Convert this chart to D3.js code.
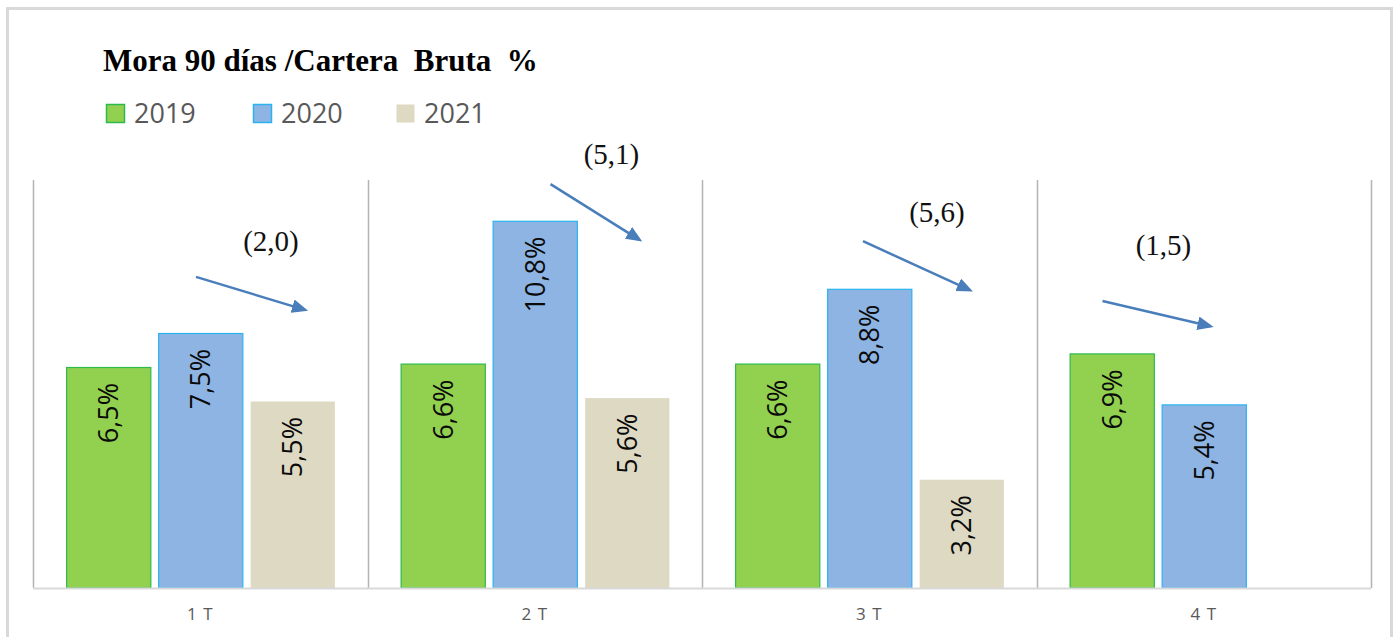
<!DOCTYPE html>
<html>
<head>
<meta charset="utf-8">
<script src="https://cdn.jsdelivr.net/npm/d3@7"></script>
<style>
  html, body { margin: 0; padding: 0; background: #fff; }
  svg { display: block; }
</style>
</head>
<body>
<div id="chart"></div>
<script>
// data
const quarters = ['1 T', '2 T', '3 T', '4 T'];
const years = ['2019', '2020', '2021'];
const values2019 = [6.5, 6.6, 6.6, 6.9];
const values2020 = [7.5, 10.8, 8.8, 5.4];
const values2021 = [5.5, 5.6, 3.2, null];
const changeLabels = ['(2,0)', '(5,1)', '(5,6)', '(1,5)'];
// arrow ends: [offset in band px, value] for start and end, label [offset, value]
const arrowFrom = [[163, 9.15], [183, 11.88], [161, 10.2], [66, 8.44]];
const arrowTo = [[272, 8.18], [272, 10.24], [268, 8.76], [174, 7.7]];
const labelAt = [[238, 9.9], [244, 12.48], [235, 10.77], [127, 9.8]];

const fills = {'2019': '#92d050', '2020': '#8eb4e3', '2021': '#ddd9c3'};
const strokes = {'2019': '#2cbb4a', '2020': '#2ab3f0', '2021': 'none'};

const width = 1397, height = 637;
const margin = ({top: 180, right: 26, bottom: 49, left: 33});

const svg = d3.select('#chart').append('svg')
  .attr('width', width).attr('height', height);

// outer frame
svg.append('rect')
  .attr('x', 7.5).attr('y', 8.5)
  .attr('width', 1384).attr('height', 660)
  .attr('fill', 'none').attr('stroke', '#d9d9d9').attr('stroke-width', 3);

const rows = quarters.map((q, i) => ({
  quarter: q,
  '2019': values2019[i], '2020': values2020[i], '2021': values2021[i]
}));

const x0 = d3.scaleBand()
  .domain(quarters)
  .range([margin.left, width - margin.right]);

const x1 = d3.scaleBand()
  .domain(years)
  .range([0, x0.bandwidth()])
  .paddingInner(0.085)
  .paddingOuter(0.36);

const y = d3.scaleLinear()
  .domain([0, 12])
  .range([height - margin.bottom, margin.top]);

const base = y(0);

// dividers between quarters
const edges = quarters.map(q => x0(q)).concat([x0.range()[1]]);
svg.append('g').selectAll('line')
  .data(edges)
  .join('line')
  .attr('x1', d => Math.round(d) + 0.5).attr('x2', d => Math.round(d) + 0.5)
  .attr('y1', y(12)).attr('y2', base)
  .attr('stroke', '#b3b3b3').attr('stroke-width', 1.5);

// bars
const groups = svg.append('g').selectAll('g')
  .data(rows)
  .join('g')
  .attr('transform', d => `translate(${x0(d.quarter)},0)`);

const cells = groups.selectAll('g.cell')
  .data(d => years.filter(k => d[k] != null).map(k => ({key: k, value: d[k]})))
  .join('g').attr('class', 'cell');

cells.append('rect')
  .attr('x', d => x1(d.key) + 0.5)
  .attr('y', d => y(d.value) + 0.5)
  .attr('width', x1.bandwidth())
  .attr('height', d => base - y(d.value) - 0.5)
  .attr('fill', d => fills[d.key])
  .attr('stroke', d => strokes[d.key])
  .attr('stroke-width', 1.2);

cells.append('text')
  .attr('transform', d => `translate(${x1(d.key) + x1.bandwidth() / 2 + 10},${y(d.value) + 16}) rotate(-90)`)
  .attr('text-anchor', 'end')
  .attr('font-family', 'Open Sans, sans-serif')
  .attr('font-size', 27)
  .attr('fill', '#0a0a0a')
  .text(d => d3.format('.1f')(d.value).replace('.', ',') + '%');

// baseline
svg.append('line')
  .attr('x1', margin.left).attr('x2', width - margin.right)
  .attr('y1', base + 0.5).attr('y2', base + 0.5)
  .attr('stroke', '#d9d9d9').attr('stroke-width', 2);

// category labels
svg.append('g').selectAll('text')
  .data(quarters)
  .join('text')
  .attr('x', d => x0(d) + x0.bandwidth() / 2)
  .attr('y', 620)
  .attr('text-anchor', 'middle')
  .attr('font-family', 'Open Sans, sans-serif')
  .attr('font-size', 17)
  .attr('letter-spacing', 1)
  .attr('fill', '#595959')
  .text(d => d);

// change arrows
const defs = svg.append('defs');
defs.append('marker')
  .attr('id', 'head')
  .attr('viewBox', '0 0 10 10')
  .attr('refX', 8).attr('refY', 5)
  .attr('markerWidth', 6.5).attr('markerHeight', 5.5)
  .attr('markerUnits', 'strokeWidth')
  .attr('orient', 'auto')
  .attr('preserveAspectRatio', 'none')
  .append('path').attr('d', 'M0,0 L10,5 L0,10 Z').attr('fill', '#4a7ebb');

const ann = svg.append('g');
quarters.forEach((q, i) => {
  const bx = x0(q);
  ann.append('line')
    .attr('x1', bx + arrowFrom[i][0]).attr('y1', y(arrowFrom[i][1]))
    .attr('x2', bx + arrowTo[i][0]).attr('y2', y(arrowTo[i][1]))
    .attr('stroke', '#4a7ebb').attr('stroke-width', 2.5)
    .attr('marker-end', 'url(#head)');
  ann.append('text')
    .attr('x', bx + labelAt[i][0]).attr('y', y(labelAt[i][1]))
    .attr('text-anchor', 'middle')
    .attr('font-family', 'Liberation Serif, Times New Roman, serif')
    .attr('font-size', 29)
    .attr('fill', '#111')
    .text(changeLabels[i]);
});

// title
svg.append('text')
  .attr('x', 103).attr('y', 71)
  .attr('font-family', 'Liberation Serif, Times New Roman, serif')
  .attr('font-weight', 'bold')
  .attr('font-size', 31)
  .attr('xml:space', 'preserve')
  .style('white-space', 'pre')
  .attr('fill', '#000')
  .text('Mora 90 días /Cartera  Bruta  %');

// legend
const legendX = [106, 253, 396];
const legend = svg.append('g').selectAll('g')
  .data(years)
  .join('g')
  .attr('transform', (d, i) => `translate(${legendX[i]},104)`);

legend.append('rect')
  .attr('x', 0.5).attr('y', 0.5)
  .attr('width', 18).attr('height', 18)
  .attr('fill', d => fills[d])
  .attr('stroke', d => strokes[d])
  .attr('stroke-width', 1.5);

legend.append('text')
  .attr('x', 28).attr('y', 19)
  .attr('font-family', 'Open Sans, sans-serif')
  .attr('font-size', 27)
  .attr('fill', '#595959')
  .text(d => d);
</script>
</body>
</html>
